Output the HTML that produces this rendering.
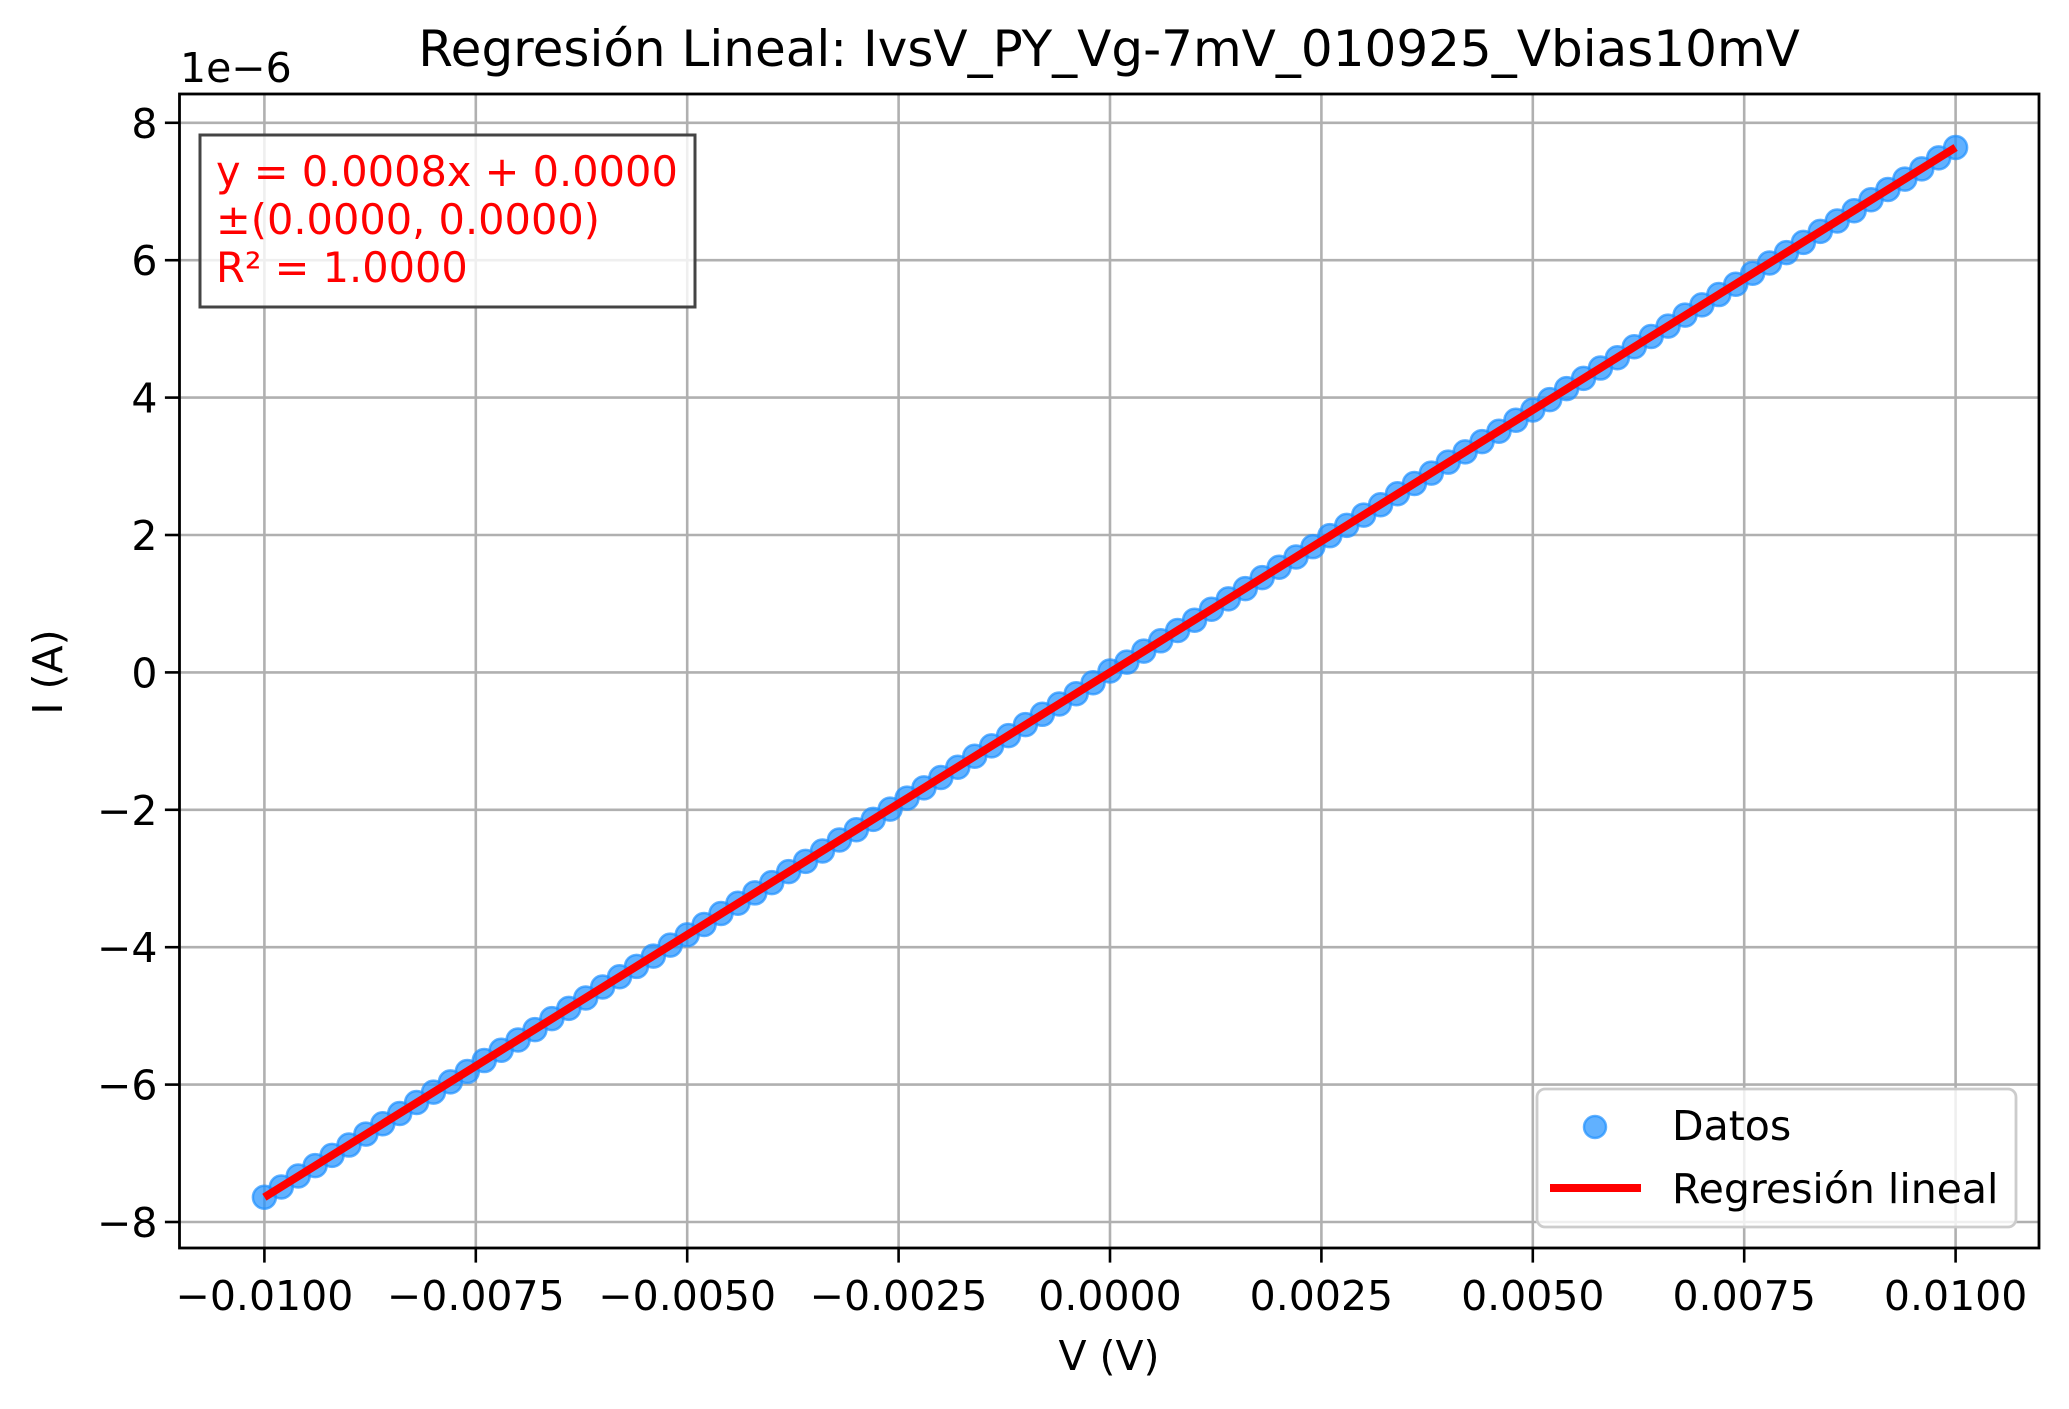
<!DOCTYPE html>
<html><head><meta charset="utf-8"><style>
html,body{margin:0;padding:0;background:#fff}
svg{display:block}
text{font-family:"DejaVu Sans","Liberation Sans",sans-serif}
</style></head><body>
<svg id="chart" width="2069" height="1409" viewBox="0 0 2069 1409" xmlns="http://www.w3.org/2000/svg">
<rect width="2069" height="1409" fill="#fff"/>
<g id="grid"></g>
<g id="series"></g>
<g id="axes"></g>
</svg>
<script>
const voltagesMilli = [-10,-9.8,-9.6,-9.4,-9.2,-9,-8.8,-8.6,-8.4,-8.2,-8,-7.8,-7.6,-7.4,-7.2,-7,-6.8,-6.6,-6.4,-6.2,-6,-5.8,-5.6,-5.4,-5.2,-5,-4.8,-4.6,-4.4,-4.2,-4,-3.8,-3.6,-3.4,-3.2,-3,-2.8,-2.6,-2.4,-2.2,-2,-1.8,-1.6,-1.4,-1.2,-1,-0.8,-0.6,-0.4,-0.2,0,0.2,0.4,0.6,0.8,1,1.2,1.4,1.6,1.8,2,2.2,2.4,2.6,2.8,3,3.2,3.4,3.6,3.8,4,4.2,4.4,4.6,4.8,5,5.2,5.4,5.6,5.8,6,6.2,6.4,6.6,6.8,7,7.2,7.4,7.6,7.8,8,8.2,8.4,8.6,8.8,9,9.2,9.4,9.6,9.8,10];
const currentsMicro = [-7.64,-7.49,-7.33,-7.18,-7.03,-6.88,-6.72,-6.57,-6.42,-6.26,-6.11,-5.96,-5.81,-5.65,-5.50,-5.35,-5.20,-5.04,-4.89,-4.74,-4.58,-4.43,-4.28,-4.13,-3.97,-3.82,-3.67,-3.51,-3.36,-3.21,-3.06,-2.90,-2.75,-2.60,-2.44,-2.29,-2.14,-1.99,-1.83,-1.68,-1.53,-1.38,-1.22,-1.07,-0.92,-0.76,-0.61,-0.46,-0.31,-0.15,0.02,0.15,0.31,0.46,0.61,0.76,0.92,1.07,1.22,1.38,1.53,1.68,1.83,1.99,2.14,2.29,2.44,2.60,2.75,2.90,3.06,3.21,3.36,3.51,3.67,3.82,3.97,4.13,4.28,4.43,4.58,4.74,4.89,5.04,5.20,5.35,5.50,5.65,5.81,5.96,6.11,6.26,6.42,6.57,6.72,6.88,7.03,7.18,7.33,7.49,7.64];
const fitSlopeMicroPerMilli = 0.764;
const fitInterceptMicro = 0;
const xTicks = [-0.01,-0.0075,-0.005,-0.0025,0,0.0025,0.005,0.0075,0.01];
const xTickLabels = ["\u22120.0100","\u22120.0075","\u22120.0050","\u22120.0025","0.0000","0.0025","0.0050","0.0075","0.0100"];
const yTicks = [-8,-6,-4,-2,0,2,4,6,8];
const yTickLabels = ["\u22128","\u22126","\u22124","\u22122","0","2","4","6","8"];

const L=179.5,R=2039,T=94,B=1248;
function xs(v){return 1110+(v/0.0025)*211.4;}
function ys(v){return 672.4-(v/2)*137.4;}
const NS="http://www.w3.org/2000/svg";
function mk(tag,attrs,parent){const e=document.createElementNS(NS,tag);for(const k in attrs)e.setAttribute(k,attrs[k]);parent.appendChild(e);return e;}
const grid=document.getElementById('grid'),series=document.getElementById('series'),axes=document.getElementById('axes');

xTicks.forEach((t,i)=>{const x=xs(t);
 const g=mk('line',{x1:x,x2:x,y1:T,y2:B,stroke:'#b0b0b0','stroke-width':2.6},grid);
 
 
 const tk=mk('line',{x1:x,x2:x,y1:B,y2:B+14.6,stroke:'#000','stroke-width':2.6},axes);
 
 
 const tl=mk('text',{x:x,y:1310,'font-size':41,'text-anchor':'middle',fill:'#000'},axes);
 tl.textContent=xTickLabels[i];
 
 
});
yTicks.forEach((t,i)=>{const y=ys(t);
 const g=mk('line',{x1:L,x2:R,y1:y,y2:y,stroke:'#b0b0b0','stroke-width':2.6},grid);
 
 
 const tk=mk('line',{x1:L-14.6,x2:L,y1:y,y2:y,stroke:'#000','stroke-width':2.6},axes);
 
 
 const tl=mk('text',{x:L-22,y:y+15,'font-size':41,'text-anchor':'end',fill:'#000'},axes);
 tl.textContent=yTickLabels[i];
 
 
});

voltagesMilli.forEach((v,i)=>{
 const c=mk('circle',{cx:xs(v/1000),cy:ys(currentsMicro[i]),r:11.5,fill:'#1e90ff','fill-opacity':0.7,stroke:'#1e90ff','stroke-opacity':0.7,'stroke-width':2.5},series);
 
 
});
const x0=voltagesMilli[0],x1=voltagesMilli[voltagesMilli.length-1];
const fl=mk('line',{x1:xs(x0/1000),y1:ys(fitSlopeMicroPerMilli*x0+fitInterceptMicro),x2:xs(x1/1000),y2:ys(fitSlopeMicroPerMilli*x1+fitInterceptMicro),stroke:'#ff0000','stroke-width':8},series);



const fr=mk('rect',{x:L,y:T,width:R-L,height:B-T,fill:'none',stroke:'#000','stroke-width':2.8},axes);


</script>
<svg style="position:absolute;left:0;top:0" width="2069" height="1409">
<text x="1109" y="66" font-size="50" text-anchor="middle" font-family="DejaVu Sans, Liberation Sans, sans-serif">Regresión Lineal: IvsV_PY_Vg-7mV_010925_Vbias10mV</text>
<text x="180" y="82" font-size="41" font-family="DejaVu Sans, Liberation Sans, sans-serif">1e−6</text>
<text x="1109" y="1370" font-size="41" text-anchor="middle" font-family="DejaVu Sans, Liberation Sans, sans-serif">V (V)</text>
<text transform="translate(62,672) rotate(-90)" font-size="41" text-anchor="middle" font-family="DejaVu Sans, Liberation Sans, sans-serif">I (A)</text>
<g>
<rect x="200" y="135" width="495" height="172" fill="#fff" fill-opacity="0.8" stroke="#444" stroke-width="3"/>
<text x="216" y="186" font-size="41.5" fill="#ff0000" font-family="DejaVu Sans, Liberation Sans, sans-serif">y = 0.0008x + 0.0000</text>
<text x="216" y="234" font-size="41.5" fill="#ff0000" font-family="DejaVu Sans, Liberation Sans, sans-serif">±(0.0000, 0.0000)</text>
<text x="216" y="282" font-size="41.5" fill="#ff0000" font-family="DejaVu Sans, Liberation Sans, sans-serif">R² = 1.0000</text>
</g>
<g>
<rect x="1537" y="1089" width="479" height="138" rx="8" fill="#fff" fill-opacity="0.8" stroke="#cccccc" stroke-width="2.8"/>
<circle cx="1595" cy="1127" r="11" fill="#1e90ff" fill-opacity="0.7" stroke="#1e90ff" stroke-opacity="0.7" stroke-width="2.5"/>
<text x="1672" y="1140" font-size="41" font-family="DejaVu Sans, Liberation Sans, sans-serif">Datos</text>
<line x1="1550" y1="1188" x2="1641" y2="1188" stroke="#ff0000" stroke-width="8"/>
<text x="1672" y="1203" font-size="41" font-family="DejaVu Sans, Liberation Sans, sans-serif">Regresión lineal</text>
</g>
</svg>
</body></html>
